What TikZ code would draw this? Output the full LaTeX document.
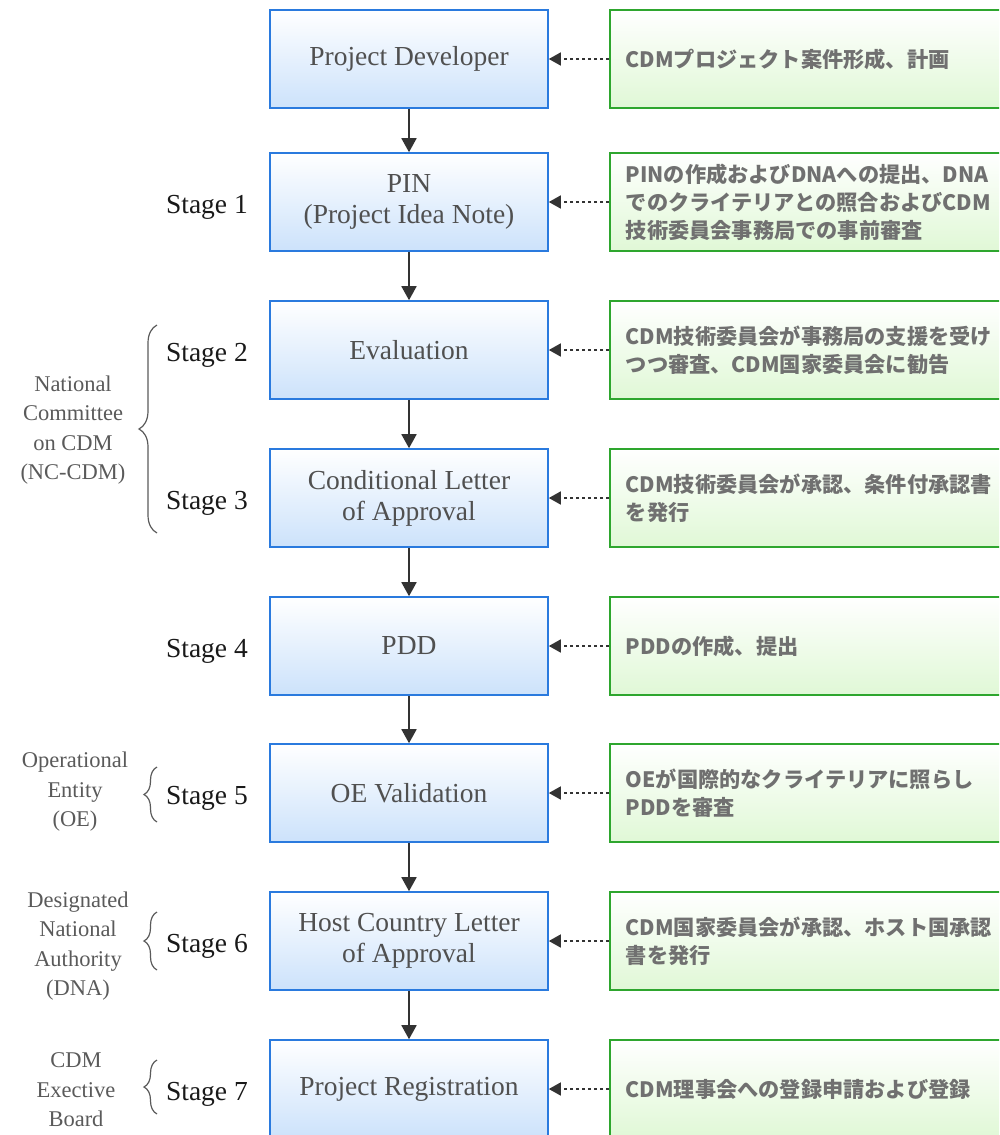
\documentclass[tikz,border=0pt]{standalone}
\usepackage{fontspec}
\setmainfont{Liberation Serif}
\newfontfamily\jpfont{Noto Sans CJK JP}
\usetikzlibrary{arrows.meta,decorations.pathreplacing}

\definecolor{boxblue}{RGB}{42,122,222}
\definecolor{fillblue}{RGB}{204,226,251}
\definecolor{boxgreen}{RGB}{46,166,46}
\definecolor{fillgreen}{RGB}{224,248,214}
\definecolor{boxtext}{RGB}{80,80,80}
\definecolor{notetext}{RGB}{112,112,112}
\definecolor{grouptext}{RGB}{90,90,90}
\definecolor{arrowgray}{RGB}{51,51,51}

\tikzset{
  stepbox/.style={draw=boxblue, line width=1.6pt, top color=white, bottom color=fillblue,
    minimum width=278pt, minimum height=98pt, inner sep=0pt, align=center,
    text=boxtext, font=\fontsize{27.5}{31}\selectfont},
  notebox/.style={draw=boxgreen, line width=1.6pt, top color=white, bottom color=fillgreen,
    minimum height=98pt, text width=380pt, inner xsep=16pt, inner ysep=0pt, align=left,
    anchor=west, text=notetext, font=\jpfont\bfseries\fontsize{21.2}{28}\selectfont},
  stagelabel/.style={anchor=east, inner sep=0pt, text=black!90, font=\fontsize{27.5}{31}\selectfont},
  grouplabel/.style={align=center, inner sep=0pt, text=grouptext, font=\fontsize{22.5}{29.5}\selectfont},
  flow/.style={draw=arrowgray, line width=1.8pt, -{Triangle[length=14pt,width=15pt]}},
  feed/.style={draw=arrowgray, line width=1.6pt, dash pattern=on 3pt off 3pt,
    -{Triangle[length=12pt,width=13pt]}},
  groupbrace/.style={draw=grouptext, line width=1.2pt, decorate},
}

\begin{document}
\begin{tikzpicture}[x=1pt,y=-1pt]
\useasboundingbox (0,0) rectangle (999,1135);
\clip (0,0) rectangle (999,1135);

% main flow boxes
\node[stepbox] (b0) at (409,59)   {Project Developer};
\node[stepbox] (b1) at (409,202)  {PIN\\(Project Idea Note)};
\node[stepbox] (b2) at (409,350)  {Evaluation};
\node[stepbox] (b3) at (409,498)  {Conditional Letter\\of Approval};
\node[stepbox] (b4) at (409,646)  {PDD};
\node[stepbox] (b5) at (409,793)  {OE Validation};
\node[stepbox] (b6) at (409,941)  {Host Country Letter\\of Approval};
\node[stepbox] (b7) at (409,1089) {Project Registration};

% notes on the right
\node[notebox] (g0) at (609,59)   {CDMプロジェクト案件形成、計画};
\node[notebox] (g1) at (609,202)  {PINの作成およびDNAへの提出、DNA\\でのクライテリアとの照合およびCDM\\技術委員会事務局での事前審査};
\node[notebox] (g2) at (609,350)  {CDM技術委員会が事務局の支援を受け\\つつ審査、CDM国家委員会に勧告};
\node[notebox] (g3) at (609,498)  {CDM技術委員会が承認、条件付承認書\\を発行};
\node[notebox] (g4) at (609,646)  {PDDの作成、提出};
\node[notebox] (g5) at (609,793)  {OEが国際的なクライテリアに照らし\\PDDを審査};
\node[notebox] (g6) at (609,941)  {CDM国家委員会が承認、ホスト国承認\\書を発行};
\node[notebox] (g7) at (609,1089) {CDM理事会への登録申請および登録};

% vertical flow
\foreach \a/\b in {b0/b1,b1/b2,b2/b3,b3/b4,b4/b5,b5/b6,b6/b7}
  \draw[flow] (\a.south) -- (\b.north);

% notes feeding the boxes
\foreach \i in {0,...,7}
  \draw[feed] (g\i.west) -- (b\i.east);

% stage labels
\node[stagelabel] (s1) at (248,207)  {Stage 1};
\node[stagelabel] (s2) at (248,355)  {Stage 2};
\node[stagelabel] (s3) at (248,503)  {Stage 3};
\node[stagelabel] (s4) at (248,651)  {Stage 4};
\node[stagelabel] (s5) at (248,798)  {Stage 5};
\node[stagelabel] (s6) at (248,946)  {Stage 6};
\node[stagelabel] (s7) at (248,1094) {Stage 7};

% responsible bodies with braces
\coordinate (nb1) at (157,533);  \coordinate (nt1) at (157,325);
\coordinate (nb2) at (157,822);  \coordinate (nt2) at (157,767);
\coordinate (nb3) at (157,970);  \coordinate (nt3) at (157,912);
\coordinate (nb4) at (157,1114); \coordinate (nt4) at (157,1060);
\draw[groupbrace, decoration={brace, amplitude=18pt}] (nb1) -- (nt1);
\draw[groupbrace, decoration={brace, amplitude=13pt}] (nb2) -- (nt2);
\draw[groupbrace, decoration={brace, amplitude=13pt}] (nb3) -- (nt3);
\draw[groupbrace, decoration={brace, amplitude=13pt}] (nb4) -- (nt4);

\node[grouplabel] (n1) at (73,430)  {National\\Committee\\on CDM\\(NC-CDM)};
\node[grouplabel] (n2) at (75,792)  {Operational\\Entity\\(OE)};
\node[grouplabel] (n3) at (78,946)  {Designated\\National\\Authority\\(DNA)};
\node[grouplabel] (n4) at (76,1090) {CDM\\Exective\\Board};
\end{tikzpicture}
\end{document}
